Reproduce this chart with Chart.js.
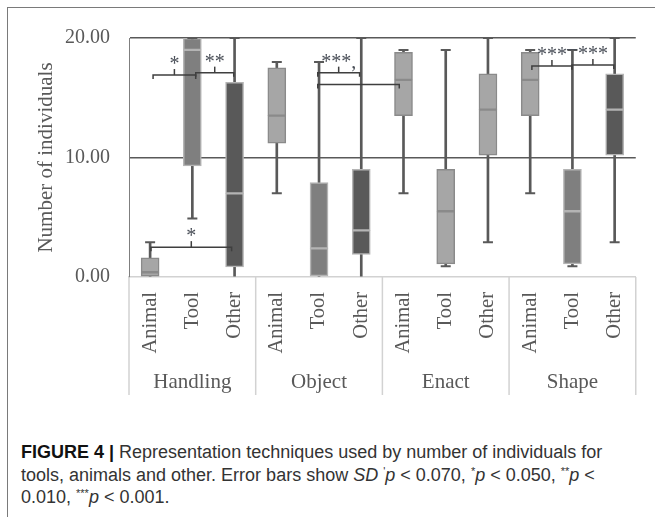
<!DOCTYPE html>
<html>
<head>
<meta charset="utf-8">
<script src="https://cdn.jsdelivr.net/npm/chart.js@4.4.1/dist/chart.umd.min.js"></script>
<style>
  html, body { margin: 0; padding: 0; background: #fff; }
  body { width: 655px; height: 517px; position: relative; overflow: hidden; }
  .frame { position: absolute; left: 7px; top: 7px; right: -5px; bottom: -5px; border-top: 1.5px solid #7a7a7a; border-left: 1.5px solid #7a7a7a; }
  #chartBox { position: absolute; left: 0; top: 0; }
  .caption { position: absolute; left: 21px; top: 441px; font-family: "Liberation Sans", Arial, sans-serif; font-size: 18px; line-height: 22.5px; color: #333; white-space: nowrap; }
  .caption b { color: #111; }
  .caption sup { font-size: 11px; position: relative; top: -6px; vertical-align: baseline; line-height: 0; }
</style>
</head>
<body>
<div class="frame"></div>
<canvas id="chartBox" width="655" height="410"></canvas>
<div class="caption">
  <b>FIGURE 4 |</b> Representation techniques used by number of individuals for<br>
  tools, animals and other. Error bars show <i>SD</i> <sup>'</sup><i>p</i> &lt; 0.070, <sup>*</sup><i>p</i> &lt; 0.050, <sup>**</sup><i>p</i> &lt;<br>
  0.010, <sup>***</sup><i>p</i> &lt; 0.001.
</div>
<script>
/* ── data ── */
const groups = ['Handling', 'Object', 'Enact', 'Shape'];
const categories = ['Animal', 'Tool', 'Other', 'Animal', 'Tool', 'Other',
                    'Animal', 'Tool', 'Other', 'Animal', 'Tool', 'Other'];
const mins    = [0,   4.9, 0,    7.0,  0,   0,   7.0,  0.9, 2.9,  7.0,  0.9, 2.9];
const q1s     = [0,   9.3, 0.85, 11.2, 0.1, 1.9, 13.5, 1.1, 10.2, 13.5, 1.1, 10.2];
const medians = [0.4, 19.0, 7.0, 13.5, 2.4, 3.9, 16.5, 5.5, 14.0, 16.5, 5.5, 14.0];
const q3s     = [1.6, 20,  16.3, 17.5, 7.9, 9.0, 18.8, 9.0, 17.0, 18.8, 9.0, 17.0];
const maxs    = [2.9, 20,  20,   18.0, 18.0, 20, 19.0, 19.0, 20,   19.0, 19.0, 20];
const yTicks  = [0, 10, 20];

// significance brackets: [from index, to index, height, label]
const brackets = [
  [0.07, 1.08, 16.9, '*'],
  [1.08, 1.98, 17.1, '**'],
  [0.02, 1.93, 2.5, '*'],
  [3.97, 4.96, 17.1, '***,'],
  [3.97, 5.90, 16.1, ''],
  [9.04, 9.99, 17.65, '***'],
  [9.99, 10.98, 17.75, '***'],
];
const extraMarks = [[9.99, 19.25, '_']];

/* ── styles ── */
const LIGHT = '#a6a6a6', MID = '#7f7f7f', DARK = '#595959';
const shade = [LIGHT, MID, DARK, LIGHT, MID, DARK, LIGHT, LIGHT, LIGHT, LIGHT, MID, DARK];
const edge = shade.map(c => c === LIGHT ? '#8a8a8a' : '#b4b4b4');
const INK = '#595959';
const SERIF = '"Liberation Serif", "Times New Roman", serif';

Chart.defaults.font.family = SERIF;
Chart.defaults.color = INK;

/* ── group labels, separators and brackets ── */
const annotate = {
  id: 'annotate',
  afterDraw(chart) {
    const { ctx, scales: { x, y } } = chart;
    ctx.save();
    ctx.strokeStyle = '#d2d2d2';
    ctx.lineWidth = 1.5;
    for (let g = 0; g <= groups.length; g++) {
      const px = x.getPixelForValue(g * 3 - 0.5);
      ctx.beginPath();
      ctx.moveTo(px, y.bottom);
      ctx.lineTo(px, 395);
      ctx.stroke();
    }
    ctx.fillStyle = INK;
    ctx.font = '21px ' + SERIF;
    ctx.textAlign = 'center';
    ctx.textBaseline = 'middle';
    groups.forEach((g, i) => ctx.fillText(g, x.getPixelForValue(i * 3 + 1), 382));

    ctx.strokeStyle = '#3f3f3f';
    ctx.lineWidth = 1.5;
    ctx.fillStyle = '#4a4f58';
    ctx.font = '20px ' + SERIF;
    ctx.textBaseline = 'alphabetic';
    brackets.forEach(([a, b, v, label]) => {
      const x1 = x.getPixelForValue(a), x2 = x.getPixelForValue(b), py = y.getPixelForValue(v);
      ctx.beginPath();
      ctx.moveTo(x1, py + 4);
      ctx.lineTo(x1, py);
      ctx.lineTo(x2, py);
      ctx.lineTo(x2, py + 4);
      ctx.stroke();
      if (label) {
        const mx = (x1 + x2) / 2;
        ctx.beginPath();
        ctx.moveTo(mx, py);
        ctx.lineTo(mx, py - 6);
        ctx.stroke();
        ctx.fillText(label, mx, py - 5);
      }
    });
    extraMarks.forEach(([a, v, t]) => ctx.fillText(t, x.getPixelForValue(a), y.getPixelForValue(v)));
    ctx.restore();
  }
};

const capData = arr => arr.map(v => (v > 0 ? v : null));

new Chart(document.getElementById('chartBox'), {
  type: 'bar',
  data: {
    labels: categories,
    datasets: [
      {
        label: 'whisker',
        data: categories.map((_, i) => [mins[i], maxs[i]]),
        backgroundColor: INK,
        barThickness: 2,
        grouped: false,
        order: 3,
      },
      {
        label: 'lower box',
        data: categories.map((_, i) => [q1s[i], medians[i]]),
        backgroundColor: shade,
        borderColor: edge,
        borderWidth: 1.5,
        borderSkipped: false,
        barThickness: 18,
        grouped: false,
        order: 2,
      },
      {
        label: 'upper box',
        data: categories.map((_, i) => [medians[i], q3s[i]]),
        backgroundColor: shade,
        borderColor: edge,
        borderWidth: 1.5,
        borderSkipped: false,
        barThickness: 18,
        grouped: false,
        order: 2,
      },
      {
        type: 'line',
        label: 'max cap',
        data: capData(maxs),
        showLine: false,
        pointStyle: 'line',
        pointRadius: 5,
        pointBorderWidth: 2,
        pointBorderColor: INK,
        order: 1,
      },
      {
        type: 'line',
        label: 'min cap',
        data: capData(mins),
        showLine: false,
        pointStyle: 'line',
        pointRadius: 5,
        pointBorderWidth: 2,
        pointBorderColor: INK,
        order: 1,
      },
    ],
  },
  options: {
    responsive: false,
    animation: false,
    layout: { padding: { top: 38, right: 18, bottom: 0, left: 0 } },
    plugins: { legend: { display: false }, tooltip: { enabled: false } },
    scales: {
      x: {
        afterFit: s => { s.height = 133; },
        grid: { display: true, drawOnChartArea: false, drawTicks: false, color: 'transparent' },
        border: { display: true, color: '#d2d2d2', width: 1.5 },
        ticks: { minRotation: 90, maxRotation: 90, padding: 15, color: INK, font: { size: 20.5 } },
      },
      y: {
        min: 0,
        max: 20,
        afterFit: s => { s.width = 129; },
        afterBuildTicks: s => { s.ticks = yTicks.map(v => ({ value: v })); },
        grid: {
          drawTicks: false,
          color: c => (c.tick && c.tick.value === 0 ? 'transparent' : INK),
          lineWidth: 1.5,
        },
        border: { display: true, color: '#7f7f7f', width: 1 },
        ticks: { padding: 19, color: INK, font: { size: 20 }, callback: v => v.toFixed(2) },
        title: {
          display: true,
          text: 'Number of individuals',
          color: INK,
          font: { size: 21 },
          padding: { top: 34, bottom: 0 },
        },
      },
    },
  },
  plugins: [annotate],
});
</script>
</body>
</html>
